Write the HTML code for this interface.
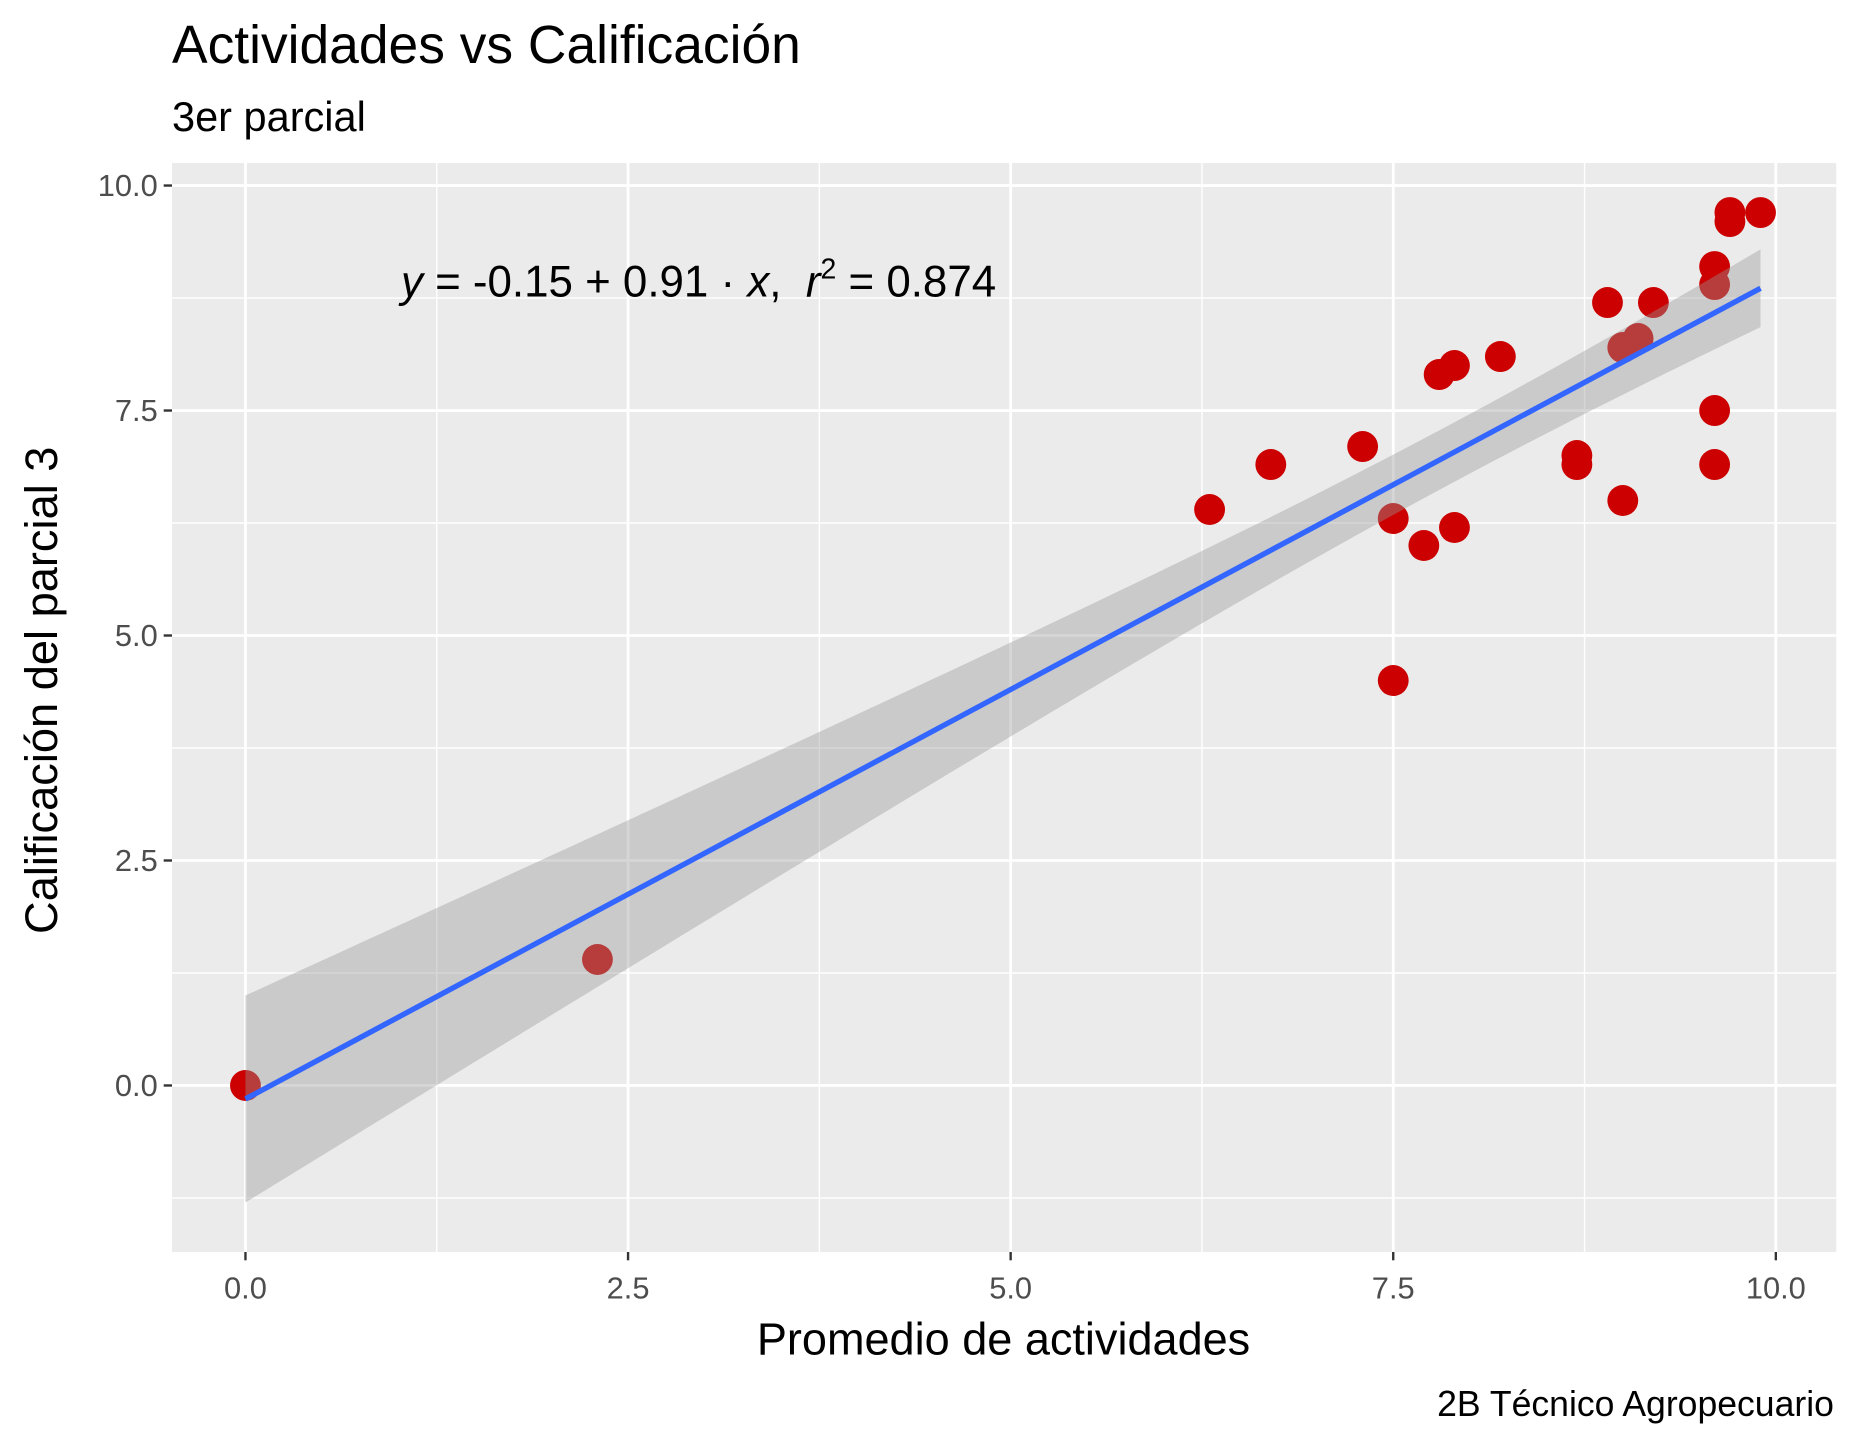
<!DOCTYPE html>
<html><head><meta charset="utf-8"><style>
html,body{margin:0;padding:0;background:#fff;}
svg{display:block;font-family:"Liberation Sans",Arial,sans-serif;}
</style></head><body>
<svg id="chart" width="1860" height="1440" viewBox="0 0 1568 1210" preserveAspectRatio="none" xmlns="http://www.w3.org/2000/svg">
<text x="145" y="53" font-size="45" fill="#000">Actividades vs Calificación</text>
<text x="145" y="110" font-size="35" fill="#000">3er parcial</text>
<rect x="145" y="137" width="1403" height="915" fill="#ebebeb"/>
<g id="grid"></g>
<g id="points"></g>
<g id="smooth"></g>
<text x="338" y="249" font-size="37" fill="#000" xml:space="preserve"><tspan font-style="italic">y</tspan> = -0.15 + 0.91 · <tspan font-style="italic">x</tspan>,  <tspan font-style="italic">r</tspan><tspan font-size="24" dy="-15">2</tspan><tspan dy="15"> = 0.874</tspan></text>
<g id="axes"></g>
<text x="846" y="1138" font-size="38" text-anchor="middle" fill="#000">Promedio de actividades</text>
<text transform="translate(48,580) rotate(-90)" font-size="38" text-anchor="middle" fill="#000">Calificación del parcial 3</text>
<text x="1546" y="1190" font-size="30" text-anchor="end" fill="#000">2B Técnico Agropecuario</text>
</svg>
<script>
const xTicks=[0,2.5,5,7.5,10];
const yTicks=[0,2.5,5,7.5,10];
const tickLabels=["0.0","2.5","5.0","7.5","10.0"];
const xVals=[0,2.3,6.3,6.7,7.3,7.5,7.5,7.7,7.8,7.9,7.9,8.2,8.7,8.7,8.9,9.0,9.0,9.1,9.2,9.6,9.6,9.6,9.6,9.7,9.7,9.9];
const yVals=[0,1.4,6.4,6.9,7.1,6.3,4.5,6.0,7.9,8.0,6.2,8.1,7.0,6.9,8.7,6.5,8.2,8.3,8.7,9.1,8.9,7.5,6.9,9.7,9.6,9.7];
const intercept=-0.15, slope=0.91;

const NS="http://www.w3.org/2000/svg";
const X0=145,X1=1548,Y0=137,Y1=1052;
const xmin=-0.48,xmax=10.395,ymin=-1.85,ymax=10.25;
function sx(v){return X0+(v-xmin)/(xmax-xmin)*(X1-X0);}
function sy(v){return Y1-(v-ymin)/(ymax-ymin)*(Y1-Y0);}
function mk(tag,attrs,parent){const e=document.createElementNS(NS,tag);for(const k in attrs)e.setAttribute(k,attrs[k]);parent.appendChild(e);return e;}
const grid=document.getElementById('grid');
for(let i=0;i<xTicks.length-1;i++){
  const m=(xTicks[i]+xTicks[i+1])/2;
  const l=mk('line',{x1:sx(m),x2:sx(m),y1:Y0,y2:Y1,stroke:'#fff','stroke-width':1.2},grid);
  
  
}
const yMinor=[-1.25].concat(yTicks.slice(0,-1).map((t,i)=>(t+yTicks[i+1])/2));
yMinor.forEach(m=>{
  const l=mk('line',{x1:X0,x2:X1,y1:sy(m),y2:sy(m),stroke:'#fff','stroke-width':1.2},grid);
  
  
});
xTicks.forEach(t=>{
  const l=mk('line',{x1:sx(t),x2:sx(t),y1:Y0,y2:Y1,stroke:'#fff','stroke-width':2.4},grid);
  
  
});
yTicks.forEach(t=>{
  const l=mk('line',{x1:X0,x2:X1,y1:sy(t),y2:sy(t),stroke:'#fff','stroke-width':2.4},grid);
  
  
});
const pts=document.getElementById('points');
xVals.forEach((x,i)=>{
  const c=mk('circle',{cx:sx(x),cy:sy(yVals[i]),r:13,fill:'#cc0000'},pts);
  
  
});
const sm=document.getElementById('smooth');
const xa=0,xb=Math.max(...xVals),xm=7.9;
function hw(x){return Math.sqrt(0.1089+0.01945*(x-xm)*(x-xm));}
let up=[],lo=[];
for(let k=0;k<=80;k++){const x=xa+(xb-xa)*k/80;const f=intercept+slope*x;up.push(sx(x)+','+sy(f+hw(x)));lo.unshift(sx(x)+','+sy(f-hw(x)));}
const rib=mk('polygon',{points:up.concat(lo).join(' '),fill:'#999999','fill-opacity':0.4},sm);


const ln=mk('line',{x1:sx(xa),y1:sy(intercept+slope*xa),x2:sx(xb),y2:sy(intercept+slope*xb),stroke:'#3366ff','stroke-width':4.5},sm);


const ax=document.getElementById('axes');
xTicks.forEach((t,i)=>{
  const tk=mk('line',{x1:sx(t),x2:sx(t),y1:Y1,y2:Y1+7,stroke:'#333','stroke-width':2},ax);
  
  
  const tx=mk('text',{x:sx(t),y:Y1+39,'font-size':26,fill:'#4d4d4d','text-anchor':'middle'},ax);
  tx.textContent=tickLabels[i];
  
  
});
yTicks.forEach((t,i)=>{
  const tk=mk('line',{x1:X0-7,x2:X0,y1:sy(t),y2:sy(t),stroke:'#333','stroke-width':2},ax);
  
  
  const tx=mk('text',{x:X0-12,y:sy(t)+9,'font-size':26,fill:'#4d4d4d','text-anchor':'end'},ax);
  tx.textContent=tickLabels[i];
  
  
});
</script>
</body></html>
